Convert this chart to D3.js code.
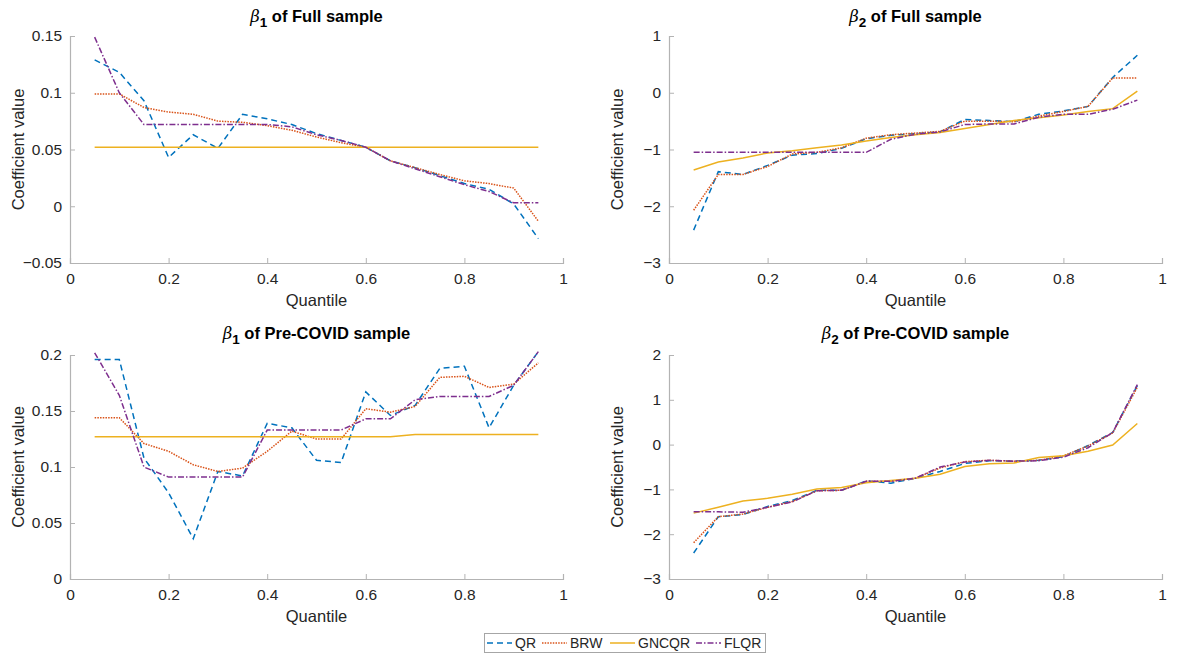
<!DOCTYPE html>
<html><head><meta charset="utf-8">
<script src="https://cdn.jsdelivr.net/npm/d3@7"></script>
<style>body{margin:0;background:#fff}svg{display:block;font-family:"Liberation Sans",Arial,sans-serif}</style>
</head><body>
<svg id="c" width="1188" height="658"></svg>
<script>
const quantiles = [0.05,0.1,0.15,0.2,0.25,0.3,0.35,0.4,0.45,0.5,0.55,0.6,0.65,0.7,0.75,0.8,0.85,0.9,0.95];
const seriesNames = ["QR","BRW","GNCQR","FLQR"];
const xTicks = [0,0.2,0.4,0.6,0.8,1];

// Panel 1: beta1 full sample
const p1_QR    = [0.129,0.118,0.093,0.043,0.063,0.051,0.081,0.077,0.072,0.064,0.058,0.052,0.040,0.034,0.027,0.020,0.015,0.002,-0.0285];
const p1_BRW   = [0.099,0.099,0.087,0.083,0.081,0.075,0.074,0.071,0.067,0.061,0.056,0.052,0.040,0.034,0.028,0.0224,0.020,0.016,-0.0132];
const p1_GNCQR = [0.052,0.052,0.052,0.052,0.052,0.052,0.052,0.052,0.052,0.052,0.052,0.052,0.052,0.052,0.052,0.052,0.052,0.052,0.052];
const p1_FLQR  = [0.149,0.100,0.072,0.072,0.072,0.072,0.072,0.072,0.070,0.063,0.058,0.052,0.040,0.033,0.026,0.019,0.013,0.003,0.003];
const p1_yTicks = [-0.05,0,0.05,0.1,0.15];

// Panel 2: beta2 full sample
const p2_QR    = [-2.42,-1.39,-1.44,-1.28,-1.10,-1.07,-0.98,-0.81,-0.75,-0.72,-0.69,-0.47,-0.49,-0.51,-0.38,-0.32,-0.24,0.27,0.66];
const p2_BRW   = [-2.07,-1.44,-1.44,-1.30,-1.08,-1.05,-0.97,-0.80,-0.74,-0.71,-0.68,-0.50,-0.50,-0.51,-0.41,-0.33,-0.24,0.26,0.26];
const p2_GNCQR = [-1.36,-1.22,-1.15,-1.06,-1.02,-0.97,-0.92,-0.85,-0.79,-0.74,-0.70,-0.63,-0.56,-0.49,-0.44,-0.39,-0.33,-0.28,0.03];
const p2_FLQR  = [-1.05,-1.05,-1.05,-1.05,-1.05,-1.05,-1.05,-1.05,-0.82,-0.73,-0.69,-0.56,-0.55,-0.55,-0.43,-0.38,-0.38,-0.29,-0.13];
const p2_yTicks = [-3,-2,-1,0,1];

// Panel 3: beta1 pre-COVID sample
const p3_QR    = [0.196,0.196,0.108,0.077,0.036,0.096,0.092,0.139,0.135,0.106,0.104,0.167,0.146,0.155,0.188,0.190,0.135,0.173,0.203];
const p3_BRW   = [0.144,0.144,0.121,0.114,0.102,0.096,0.099,0.114,0.132,0.125,0.125,0.152,0.149,0.154,0.180,0.181,0.171,0.174,0.193];
const p3_GNCQR = [0.127,0.127,0.127,0.127,0.127,0.127,0.127,0.127,0.127,0.127,0.127,0.127,0.127,0.129,0.129,0.129,0.129,0.129,0.129];
const p3_FLQR  = [0.202,0.164,0.100,0.091,0.091,0.091,0.091,0.133,0.133,0.133,0.133,0.143,0.143,0.160,0.163,0.163,0.163,0.173,0.203];
const p3_yTicks = [0,0.05,0.1,0.15,0.2];

// Panel 4: beta2 pre-COVID sample
const p4_QR    = [-2.42,-1.61,-1.56,-1.38,-1.25,-1.02,-1.02,-0.81,-0.86,-0.75,-0.60,-0.42,-0.36,-0.37,-0.35,-0.27,-0.02,0.27,1.32];
const p4_BRW   = [-2.19,-1.61,-1.55,-1.40,-1.27,-1.03,-1.02,-0.82,-0.82,-0.75,-0.52,-0.38,-0.35,-0.37,-0.35,-0.25,-0.03,0.26,1.28];
const p4_GNCQR = [-1.53,-1.40,-1.26,-1.20,-1.11,-0.99,-0.96,-0.85,-0.80,-0.75,-0.66,-0.49,-0.43,-0.41,-0.29,-0.25,-0.15,-0.01,0.47];
const p4_FLQR  = [-1.50,-1.50,-1.51,-1.40,-1.28,-1.03,-1.02,-0.82,-0.82,-0.75,-0.50,-0.39,-0.35,-0.37,-0.36,-0.28,-0.07,0.27,1.34];
const p4_yTicks = [-3,-2,-1,0,1,2];

const colors = {QR:"#0072BD",BRW:"#D95319",GNCQR:"#EDB120",FLQR:"#7E2F8E"};
const dashes = {QR:"6,4",BRW:"1.5,1.2",GNCQR:null,FLQR:"6,2,1.5,2"};

const panels = [
  {sub:"1", title:"of Full sample", ext:[-0.05,0.15], ticks:p1_yTicks, data:[p1_QR,p1_BRW,p1_GNCQR,p1_FLQR], x0:70, x1:563, y0:36, y1:263, ty:22},
  {sub:"2", title:"of Full sample", ext:[-3,1], ticks:p2_yTicks, data:[p2_QR,p2_BRW,p2_GNCQR,p2_FLQR], x0:669, x1:1162, y0:36, y1:263, ty:22},
  {sub:"1", title:"of Pre-COVID sample", ext:[0,0.2], ticks:p3_yTicks, data:[p3_QR,p3_BRW,p3_GNCQR,p3_FLQR], x0:70, x1:563, y0:355, y1:579, ty:339},
  {sub:"2", title:"of Pre-COVID sample", ext:[-3,2], ticks:p4_yTicks, data:[p4_QR,p4_BRW,p4_GNCQR,p4_FLQR], x0:669, x1:1162, y0:355, y1:579, ty:339}
];

const svg = d3.select("#c");
const axisCol = "#b3b3b3", textCol = "#262626";

panels.forEach(p => {
  const x = d3.scaleLinear().domain([0,1]).range([p.x0,p.x1]);
  const y = d3.scaleLinear().domain(p.ext).range([p.y1,p.y0]);
  const g = svg.append("g");

  const ax = g.append("g").attr("transform",`translate(0,${p.y1})`)
    .call(d3.axisBottom(x).tickValues(xTicks).tickFormat(d3.format("")).tickSize(-5).tickPadding(10));
  const ay = g.append("g").attr("transform",`translate(${p.x0},0)`)
    .call(d3.axisLeft(y).tickValues(p.ticks).tickFormat(d3.format("")).tickSize(-5).tickPadding(8));
  [ax,ay].forEach(a => {
    a.select(".domain").attr("stroke",axisCol).attr("stroke-width",1.2);
    a.selectAll(".tick line").attr("stroke",axisCol);
    a.selectAll(".tick text").attr("fill",textCol).style("font-size","15.5px");
  });

  const line = d3.line().x((d,i)=>x(quantiles[i])).y(d=>y(d));
  seriesNames.forEach((s,k) => {
    g.append("path").datum(p.data[k]).attr("d",line)
      .attr("fill","none").attr("stroke",colors[s]).attr("stroke-width",1.5)
      .attr("stroke-dasharray",dashes[s]);
  });

  const cx = (p.x0+p.x1)/2;
  const t = g.append("text").attr("x",cx).attr("y",p.ty).attr("text-anchor","middle")
    .attr("fill","#000").style("font-size","16.5px").style("font-weight","bold");
  t.append("tspan").text("β").style("font-style","italic").style("font-weight","normal").style("font-family","'DejaVu Serif',serif");
  t.append("tspan").text(p.sub).attr("dy",5).style("font-size","13.5px");
  t.append("tspan").text(" " + p.title).attr("dy",-5);

  g.append("text").attr("x",cx).attr("y",p.y1+43).attr("text-anchor","middle")
    .attr("fill",textCol).style("font-size","16.5px").text("Quantile");
  g.append("text").attr("transform",`translate(${p.x0-46},${(p.y0+p.y1)/2}) rotate(-90)`)
    .attr("text-anchor","middle").attr("fill",textCol).style("font-size","16.5px").text("Coefficient value");
});

// legend
const lg = svg.append("g");
lg.append("rect").attr("x",484.5).attr("y",633.5).attr("width",281).attr("height",19)
  .attr("fill","#fff").attr("stroke","#a6a6a6");
const legPos = [487,542,610,696];
seriesNames.forEach((s,k) => {
  const lx = legPos[k];
  lg.append("line").attr("x1",lx).attr("x2",lx+25).attr("y1",643).attr("y2",643)
    .attr("stroke",colors[s]).attr("stroke-width",1.5).attr("stroke-dasharray",dashes[s]);
  lg.append("text").attr("x",lx+28).attr("y",648).attr("fill",textCol).style("font-size","14px").text(s);
});
</script>
</body></html>
